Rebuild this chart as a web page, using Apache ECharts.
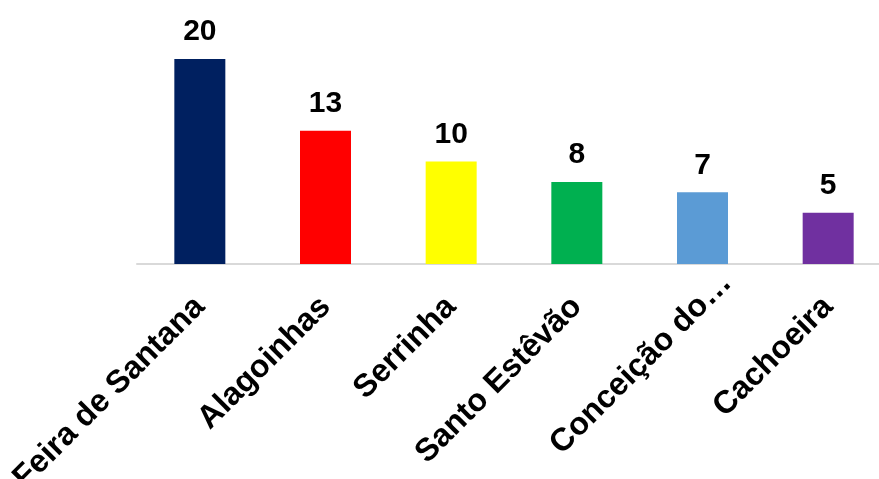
<!DOCTYPE html>
<html><head><meta charset="utf-8">
<script src="https://cdn.jsdelivr.net/npm/echarts@6/dist/echarts.min.js"></script>
<style>html,body{margin:0;padding:0;background:#fff;overflow:hidden}#c{width:879px;height:479px}</style>
</head><body><div id="c"></div>
<script>
const categories = ['Feira de Santana','Alagoinhas','Serrinha','Santo Estêvão','Conceição do…','Cachoeira'];
const values = [20, 13, 10, 8, 7, 5];
const colors = ['#002060','#ff0000','#ffff00','#00b050','#5b9bd5','#7030a0'];
const chart = echarts.init(document.getElementById('c'));
chart.setOption({
  animation: false,
  grid: {left: 137, right: -12, top: 59, bottom: 215, containLabel: false, outerBoundsMode: 'none'},
  xAxis: {
    type: 'category',
    data: categories.map(c => c.endsWith('…') ? {value: c, textStyle: {padding: [0, -34, 0, 0]}} : c),
    axisLine: {lineStyle: {color: '#d9d9d9', width: 2}},
    axisTick: {show: false},
    axisLabel: {interval: 0, rotate: 45, margin: 38, color: '#000', fontFamily: 'Liberation Sans, Arial', fontWeight: 'bold', fontSize: 32}
  },
  yAxis: {type: 'value', min: 0, max: 20, show: false, splitLine: {show: false}},
  series: [{
    type: 'bar', barWidth: 51,
    data: values.map((v, i) => ({value: v, itemStyle: {color: colors[i]}})),
    label: {show: true, position: 'top', distance: 12, color: '#000', fontFamily: 'Liberation Sans, Arial', fontWeight: 'bold', fontSize: 30}
  }]
});
</script></body></html>
